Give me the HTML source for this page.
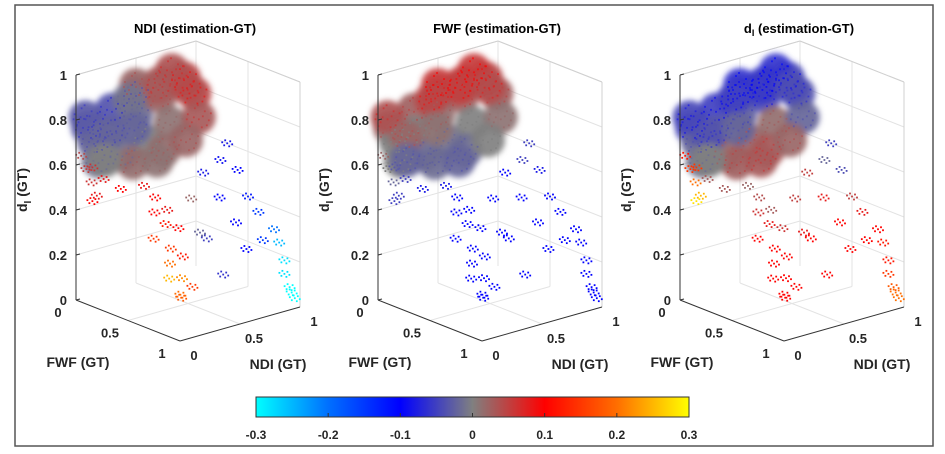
<!DOCTYPE html>
<html><head><meta charset="utf-8"><style>
body{margin:0;background:#fff}
svg{display:block;font-family:"Liberation Sans",Arial,sans-serif;font-weight:bold}
</style></head><body>
<svg id="fig" width="945" height="454" viewBox="0 0 945 454">
<defs>
<filter id="blur" x="-50%" y="-50%" width="200%" height="200%"><feGaussianBlur stdDeviation="3"/></filter>
<linearGradient id="cmap" x1="0" x2="1" y1="0" y2="0">
<stop offset="0" stop-color="#00ffff"/><stop offset="0.1667" stop-color="#0070ff"/><stop offset="0.3333" stop-color="#0000ff"/><stop offset="0.5" stop-color="#808080"/><stop offset="0.6667" stop-color="#ff0000"/><stop offset="0.8333" stop-color="#ff6e00"/><stop offset="1" stop-color="#ffff00"/>
</linearGradient>
</defs>
<rect x="15" y="5" width="918" height="441" fill="none" stroke="#555" stroke-width="1.5"/>
<g id="panels"></g>
<g>
<rect x="256" y="397" width="433" height="20" fill="url(#cmap)" stroke="#333" stroke-width="1"/>
<g id="cbticks"></g>
</g>
</svg>
<script>
// shared ground-truth coordinates (FWF, NDI, dI)
const cloudF=[0,0,0,0,0.1,0,0,0.1,0,0,0.1,0,0.1,0.2,0.15,0,0,0,0.2,0.1,0.1,0.05,0.1,0.15,0.25,0.2,0.05,0.1];
const cloudN=[0.1,0.15,0.3,0.3,0.3,0.5,0.5,0.5,0.7,0.7,0.7,0.9,0.9,0.85,0.6,0.08,0.5,0.8,0.3,0.15,0.1,0.2,0.6,0.8,0.7,0.5,0.4,0.4];
const cloudD=[0.75,0.68,0.8,0.7,0.62,0.84,0.75,0.65,0.86,0.8,0.7,0.85,0.8,0.72,0.6,0.8,0.88,0.9,0.6,0.72,0.62,0.6,0.87,0.85,0.65,0.58,0.84,0.72];
const cloudErrNDI=[-0.03,-0.02,-0.035,-0.025,-0.01,-0.02,-0.015,0,0.03,0.02,0.01,0.045,0.045,0.03,0.015,-0.03,0.02,0.035,0.015,-0.02,-0.01,0,0.03,0.04,0.02,0.01,-0.01,-0.02];
const cloudErrFWF=[0.02,0,0.025,0,-0.015,0.04,0.015,-0.01,0.05,0.025,0,0.045,0.025,0.01,-0.015,0.035,0.055,0.055,-0.015,0.02,0,-0.02,0.05,0.04,0,-0.02,0.045,0.01];
const cloudErrDI=[-0.045,-0.02,-0.05,-0.03,0.015,-0.05,-0.025,0.02,-0.055,-0.04,0.015,-0.045,-0.035,-0.02,0.03,-0.045,-0.06,-0.06,0.025,-0.035,-0.01,0,-0.055,-0.04,0.02,0.03,-0.05,-0.02];
const tailF=[.25,.3,.35,.4,.4,.45,.5,.55,.5,.6,.55,.3,.35,.45,.6,.2,.15,.1,.3,.4,.5,.35,.4,.5,.6,.3,.6,.7,.45,.55,.5,.3,.8,.85,.85,.9,.95,.92,.75,.1,.15,.05,.2,.1];
const tailN=[.35,.4,.35,.4,.3,.4,.35,.3,.45,.35,.4,.5,.55,.5,.45,.2,.1,.05,.8,.85,.9,.9,1,1,1,1,.9,.95,.7,.75,.6,.7,1,1,1,1,1,1,1,0,0,0,0,.05];
const tailD=[.5,.45,.4,.35,.3,.25,.2,.15,.12,.08,.05,.38,.3,.2,.1,.5,.55,.6,.5,.4,.3,.55,.5,.4,.35,.6,.2,.25,.25,.1,.3,.4,.25,.18,.12,.07,.03,.05,.3,.6,.55,.65,.5,.45];
const tailErrNDI=[.08,.1,.1,.12,.15,.15,.2,.25,.22,.2,.18,.08,.1,.12,.15,.1,.08,.06,-.08,-.1,-.1,-.09,-.1,-.12,-.15,-.08,-.1,-.15,-.05,-.06,-.02,.02,-.25,-.28,-.28,-.3,-.3,-.3,-.2,.05,.06,.04,.08,.1];
const tailErrFWF=[-.08,-.1,-.1,-.1,-.1,-.1,-.1,-.1,-.1,-.1,-.1,-.1,-.1,-.1,-.1,-.08,-.05,-.03,-.1,-.1,-.1,-.05,-.08,-.1,-.1,-.05,-.1,-.1,-.1,-.1,-.1,-.1,-.1,-.1,-.1,-.1,-.1,-.1,-.1,0,-.02,.02,-.05,-.05];
const tailErrDI=[.02,.04,.06,.08,.1,.1,.1,.1,.1,.1,.1,.03,.06,.1,.1,.03,.03,.15,.05,.08,.1,-.02,-.04,.05,.08,-.05,.1,.1,.1,.1,.08,.05,.12,.12,.15,.18,.2,.2,.1,.15,.2,.12,.25,.28];
const zTicks=[0,0.2,0.4,0.6,0.8,1];
const xyTicks=[0,0.5,1];
const cbTicks=[-0.3,-0.2,-0.1,0,0.1,0.2,0.3];
const panelOffsets=[0,302,604];
const cloudErrs=[cloudErrNDI,cloudErrFWF,cloudErrDI];
const tailErrs=[tailErrNDI,tailErrFWF,tailErrDI];

const NS="http://www.w3.org/2000/svg";
function mk(tag,attrs,parent){const e=document.createElementNS(NS,tag);for(const k in attrs)e.setAttribute(k,attrs[k]);parent.appendChild(e);return e;}
const stops=[[-0.3,[0,255,255]],[-0.2,[0,112,255]],[-0.1,[0,0,255]],[0,[128,128,128]],[0.1,[255,0,0]],[0.2,[255,110,0]],[0.3,[255,255,0]]];
function cmap(v){v=Math.max(-0.3,Math.min(0.3,v));for(let i=0;i<stops.length-1;i++){const [a,ca]=stops[i],[b,cb]=stops[i+1];if(v<=b){const t=(v-a)/(b-a);return 'rgb('+ca.map((c,j)=>Math.round(c+(cb[j]-c)*t)).join(',')+')';}}return 'rgb(255,255,0)';}
function proj(ox,f,n,d){return [ox+76+104*f+120*n,300+41*f-34*n-225*d];}

const root=document.getElementById('panels');
const titles=['NDI','FWF','dI'];
const dotPattern=[[0,0],[3,-2],[-3,2],[2,3],[-2,-3],[5,1],[-5,-1]];
const cloudPattern=[[-11,-3],[-7,5],[-4,-9],[0,2],[3,10],[6,-6],[10,3],[-9,9],[8,8],[-1,-12],[12,-4],[-12,2],[4,-1],[-5,0]];
panelOffsets.forEach((ox,pi)=>{
  const g=mk('g',{},root);
  
  
  const grid=mk('g',{stroke:'#e3e3e3','stroke-width':1,fill:'none'},g);
  
  
  const L=(a,b,par,col)=>{const l=mk('line',{x1:a[0],y1:a[1],x2:b[0],y2:b[1]},par);if(col)l.setAttribute('stroke',col);return l;};
  zTicks.forEach(z=>{if(z>0){L(proj(ox,0,0,z),proj(ox,0,1,z),grid);L(proj(ox,0,1,z),proj(ox,1,1,z),grid);}});
  [0.5,1].forEach(n=>L(proj(ox,0,n,0),proj(ox,0,n,1),grid));
  [0.5,1].forEach(f=>L(proj(ox,f,1,0),proj(ox,f,1,1),grid));
  L(proj(ox,.5,0,0),proj(ox,.5,1,0),grid);L(proj(ox,0,.5,0),proj(ox,1,.5,0),grid);
  L(proj(ox,0,0,1),proj(ox,0,1,1),grid,'#d0d0d0');L(proj(ox,0,1,1),proj(ox,1,1,1),grid,'#d0d0d0');L(proj(ox,1,1,0),proj(ox,1,1,1),grid,'#d0d0d0');
  // cloud
  const cg=mk('g',{filter:'url(#blur)'},g);
  
  
  cloudF.forEach((f,i)=>{const p=proj(ox,f,cloudN[i],cloudD[i]);const c=mk('circle',{cx:p[0],cy:p[1],r:17,fill:cmap(cloudErrs[pi][i]),opacity:0.92},cg);
    
    });
  const sg=mk('g',{},g);
  
  
  cloudF.forEach((f,i)=>{const p=proj(ox,f,cloudN[i],cloudD[i]);const col=cmap(cloudErrs[pi][i]*1.8);
    cloudPattern.forEach(o=>{const c=mk('rect',{x:p[0]+o[0]-0.9,y:p[1]+o[1]-0.9,width:1.8,height:1.8,fill:col,opacity:0.7},sg);
      
      });});
  const tg=mk('g',{},g);
  
  
  tailF.forEach((f,i)=>{const p=proj(ox,f,tailN[i],tailD[i]);const col=cmap(tailErrs[pi][i]);
    dotPattern.forEach(o=>{const c=mk('rect',{x:p[0]+o[0]-0.9,y:p[1]+o[1]-0.9,width:1.8,height:1.8,fill:col},tg);
      
      });});
  // axes
  const ax=mk('g',{stroke:'#333','stroke-width':1},g);
  
  
  L(proj(ox,0,0,0),proj(ox,0,0,1),ax);L(proj(ox,0,0,0),proj(ox,1,0,0),ax);L(proj(ox,1,0,0),proj(ox,1,1,0),ax);
  const tx=(x,y,s,anchor,size)=>{const t=mk('text',{x:x,y:y,'text-anchor':anchor||'middle','font-size':size||13,fill:'#262626'},g);t.textContent=s;return t;};
  zTicks.forEach(z=>{const p=proj(ox,0,0,z);L(p,[p[0]+4,p[1]-1],ax);const t=tx(p[0]-9,p[1]+5,String(z),'end');
    
    });
  xyTicks.forEach(v=>{const p=proj(ox,v,0,0);const t=tx(p[0]-18,p[1]+17,String(v));
    
    
    const q=proj(ox,1,v,0);const u=tx(q[0]+14,q[1]+19,String(v));
    
    });
  const a1=tx(ox+78,367,'FWF (GT)','middle',14);
  
  
  const a2=tx(ox+278,369,'NDI (GT)','middle',14);
  
  
  const zl=mk('text',{transform:'translate('+(ox+27)+',190) rotate(-90)','text-anchor':'middle','font-size':14,fill:'#262626'},g);
  zl.innerHTML='d<tspan font-size="10" dy="4">I</tspan><tspan dy="-4"> (GT)</tspan>';
  
  
  const tt=mk('text',{x:ox+195,y:33,'text-anchor':'middle','font-size':13,fill:'#000'},g);
  if(pi===2)tt.innerHTML='d<tspan font-size="9" dy="3">I</tspan><tspan dy="-3"> (estimation-GT)</tspan>';
  else tt.textContent=titles[pi]+' (estimation-GT)';
  
  
});
const cb=document.getElementById('cbticks');
cbTicks.forEach(v=>{const x=256+(v+0.3)/0.6*433;
  if(v>-0.3&&v<0.3){const l=mk('line',{x1:x,x2:x,y1:417,y2:413,stroke:'#333'},cb);
    
    }
  const t=mk('text',{x:x,y:439,'text-anchor':'middle','font-size':12,fill:'#262626'},cb);t.textContent=String(v);
  
  });
</script>
</body></html>
